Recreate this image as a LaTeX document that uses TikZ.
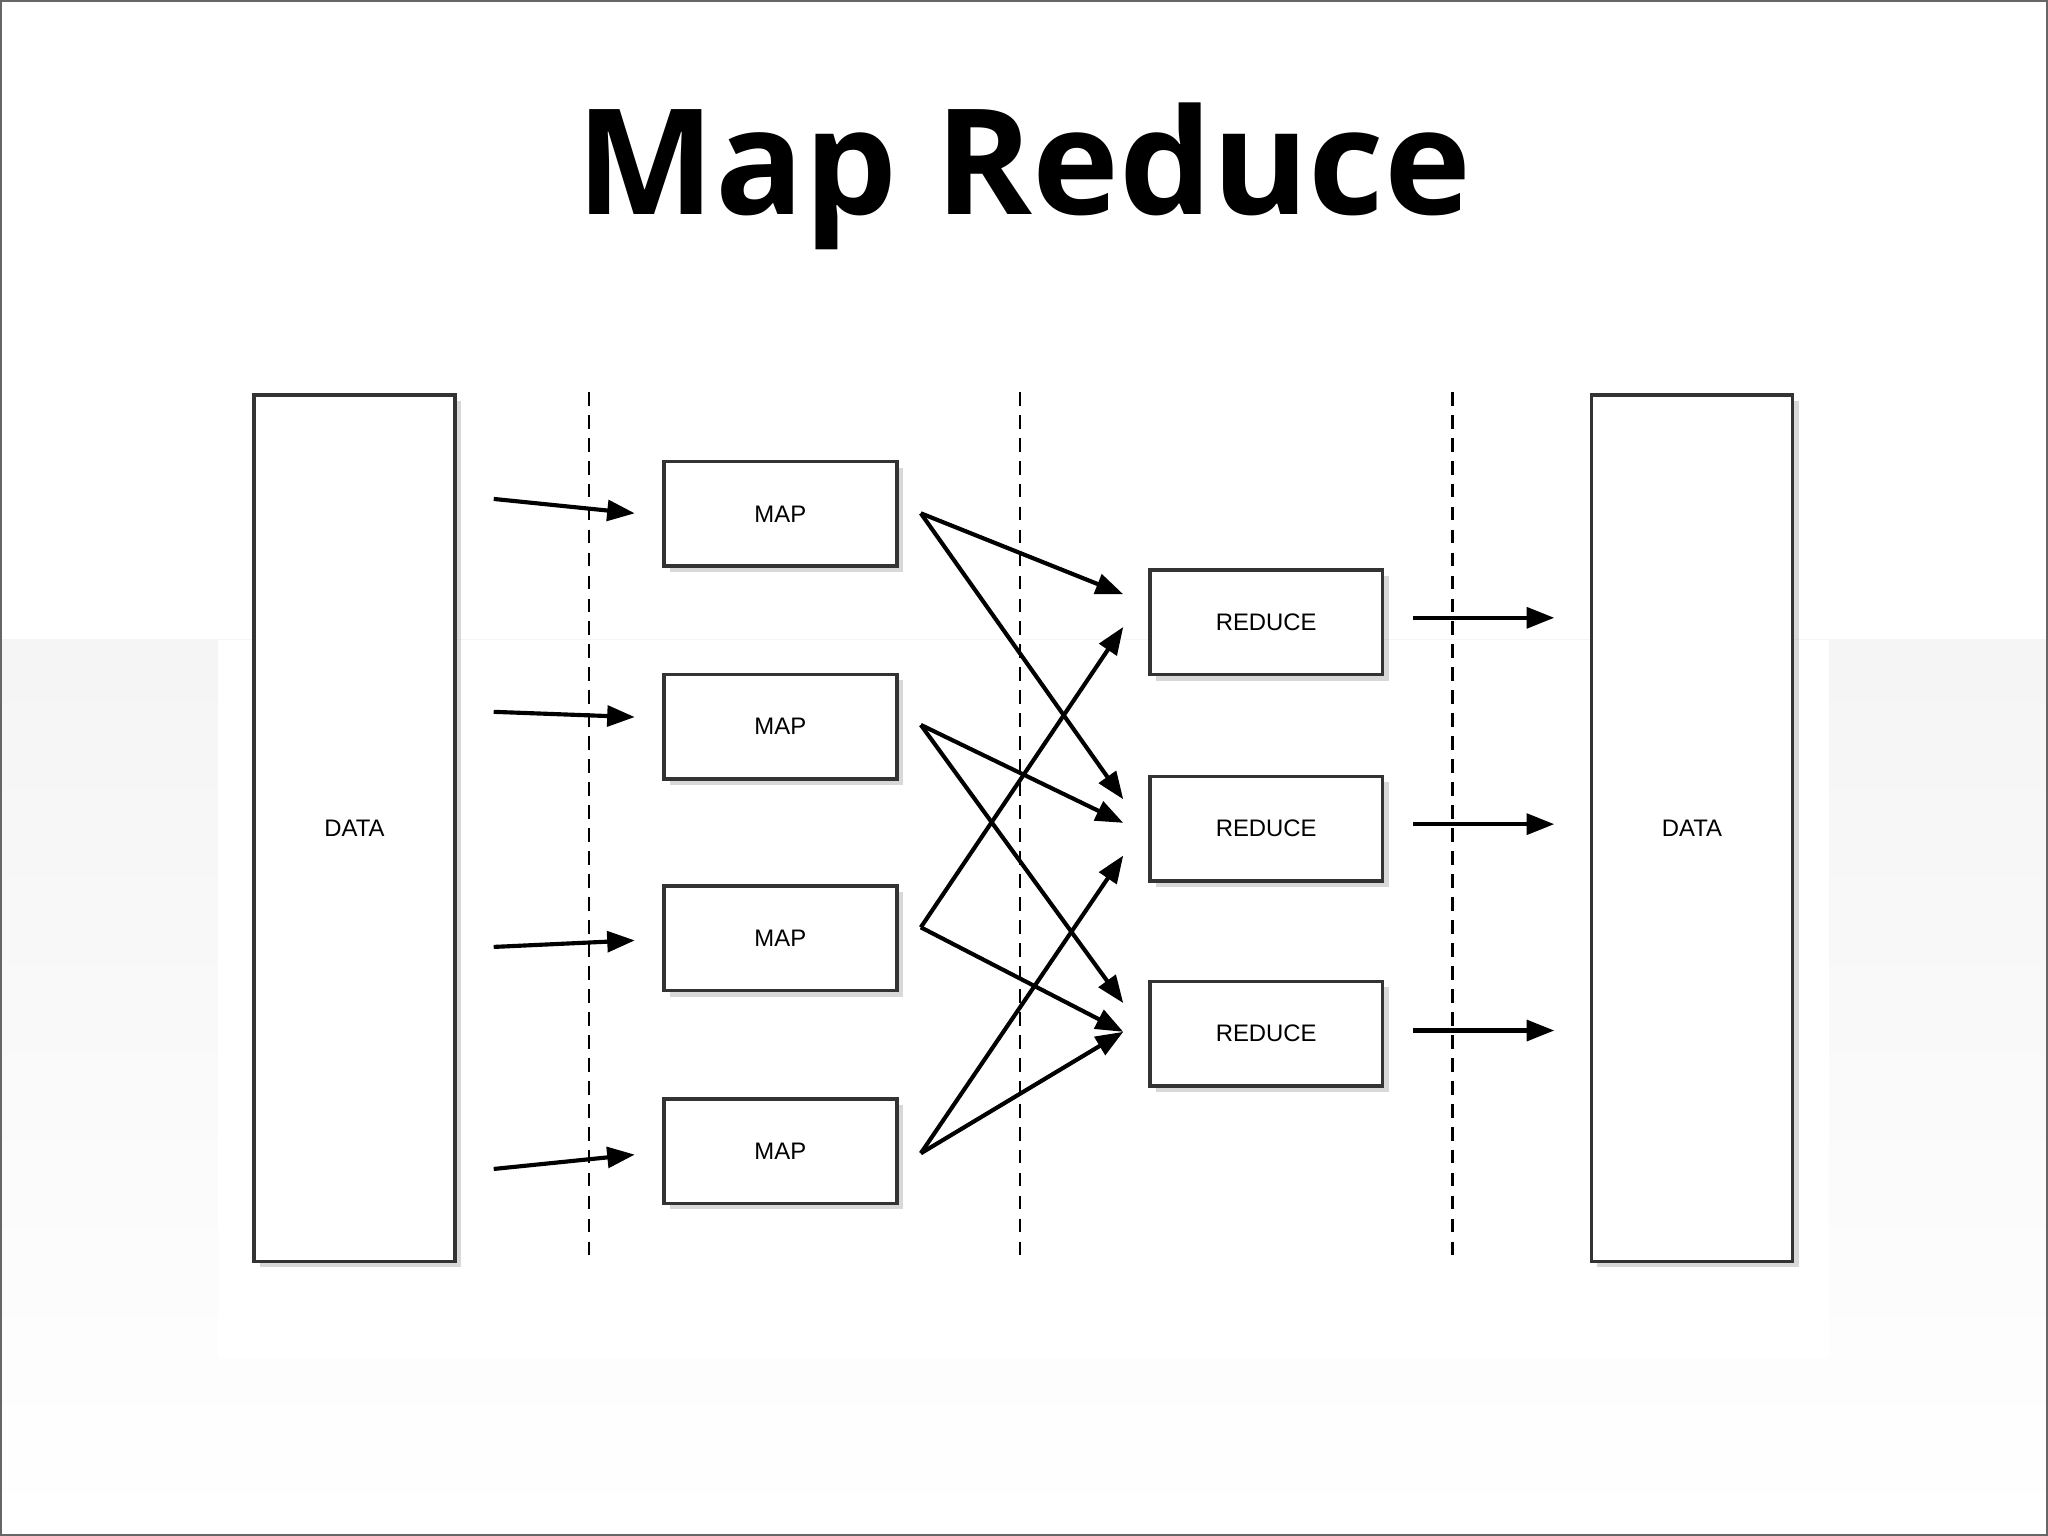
\documentclass[tikz,border=0pt]{standalone}
\usepackage{fontspec}
\setmainfont{Liberation Sans}
\newfontfamily\titlefont{Open Sans}
\usetikzlibrary{arrows.meta,shadows}
\begin{document}
\begin{tikzpicture}[x=0.01cm,y=-0.01cm,
  box/.style={draw=black!80,line width=0.8pt,fill=white,drop shadow={shadow xshift=1.3pt,shadow yshift=-1.3pt,opacity=0.3},font=\fontsize{5.2}{6}\selectfont,inner sep=0pt},
  arr/.style={line width=0.9pt,-{Triangle[length=6pt,width=4.5pt]}},
  sep/.style={line width=0.5pt,dash pattern=on 3pt off 2pt}]
\useasboundingbox (0,0) rectangle (1568,1176);
\fill[white] (0,0) rectangle (1568,1176);
\shade[top color=black!4,bottom color=white] (0,490) rectangle (1568,1176);
\fill[white] (167,490) rectangle (1400,1040);
\draw[black!60,line width=0.6pt] (0.5,0.5) rectangle (1567.5,1175.5);
\node (title) at (784,135) {\titlefont\bfseries\fontsize{32}{36}\selectfont Map Reduce};
\foreach \x/\n in {451/d1,781/d2,1112/d3} \draw[sep] (\x,300) coordinate (\n a) -- (\x,965) coordinate (\n b);
\node[box,anchor=north west,minimum width=1.54cm,minimum height=6.63cm] (dl) at (193,301) {DATA};
\node[box,anchor=north west,minimum width=1.54cm,minimum height=6.63cm] (dr) at (1217,301) {DATA};
\foreach \y/\n in {352/m1,515/m2,677/m3,840/m4}
  \node[box,anchor=north west,minimum width=1.78cm,minimum height=0.8cm] (\n) at (507,\y) {MAP};
\foreach \y/\n in {435/r1,593/r2,750/r3}
  \node[box,anchor=north west,minimum width=1.78cm,minimum height=0.8cm] (\n) at (879,\y) {REDUCE};
\coordinate (i1s) at (378,382); \coordinate (i1e) at (486,393);
\coordinate (i2s) at (378,545); \coordinate (i2e) at (486,549);
\coordinate (i3s) at (378,725); \coordinate (i3e) at (486,720);
\coordinate (i4s) at (378,895); \coordinate (i4e) at (486,884);
\foreach \i in {1,2,3,4} \draw[arr] (i\i s) -- (i\i e);
\coordinate (o1) at (705,393); \coordinate (o2) at (705,555);
\coordinate (o3) at (705,710); \coordinate (o4) at (705,883);
\coordinate (t1) at (860,455); \coordinate (t2) at (860,612);
\coordinate (t3) at (860,630); \coordinate (t4) at (860,768);
\coordinate (t5) at (860,480); \coordinate (t6) at (860,790);
\coordinate (t7) at (860,655);
\draw[arr] (o1) -- (t1); \draw[arr] (o1) -- (t2);
\draw[arr] (o2) -- (t3); \draw[arr] (o2) -- (t4);
\draw[arr] (o3) -- (t5); \draw[arr] (o3) -- (t6);
\draw[arr] (o4) -- (t7); \draw[arr] (o4) -- (t6);
\foreach \y/\n in {473/1,631/2,789/3}{
  \coordinate (u\n s) at (1082,\y); \coordinate (u\n e) at (1190,\y);
  \draw[arr] (u\n s) -- (u\n e);}
\end{tikzpicture}
\end{document}
